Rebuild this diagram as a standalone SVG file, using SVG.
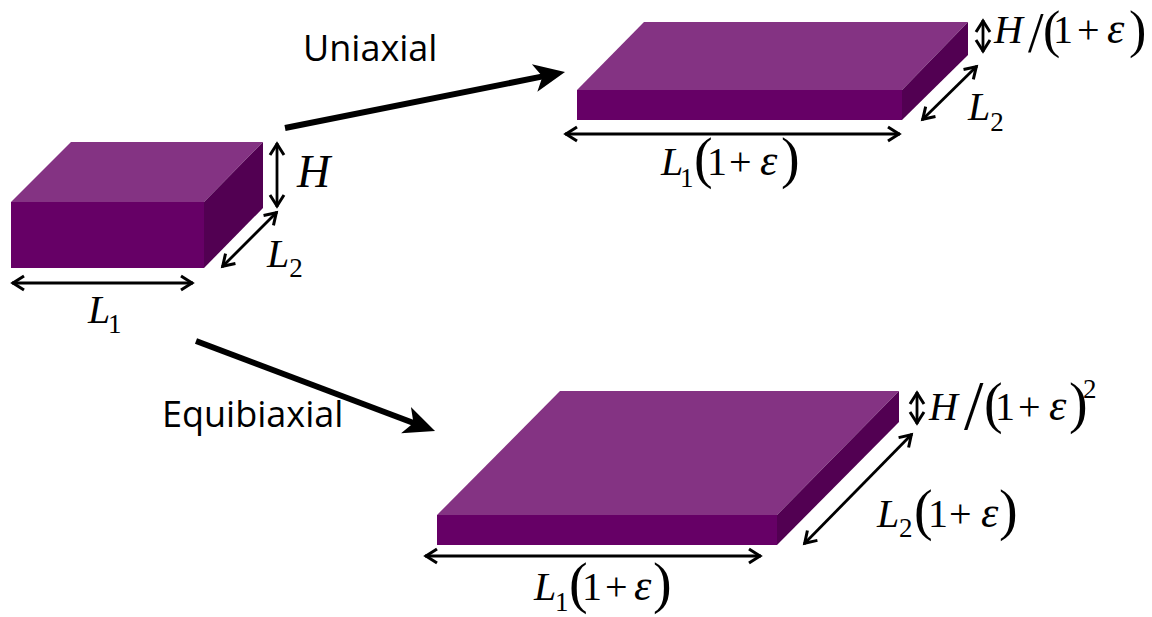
<svg xmlns="http://www.w3.org/2000/svg" width="1152" height="617" viewBox="0 0 1152 617">
<style>
.f{fill:#660066}.t{fill:#843383}.s{fill:#520052}
.d{stroke:#000;stroke-width:2.8;fill:none;marker-start:url(#o);marker-end:url(#o)}
.b{stroke:#000;stroke-width:6;fill:none;marker-end:url(#h)}
text{fill:#000;font-family:"Liberation Serif",serif;font-size:40px}
.i{font-style:italic}
.e{font-style:italic;font-size:44px}
.sb{font-size:27px}
.p{font-size:56px}
.sl{font-size:56px}
.l{font-family:"Open Sans","Noto Sans",sans-serif;font-size:36px}
</style>
<defs>
<marker id="o" viewBox="-16 -10 20 20" markerUnits="userSpaceOnUse" markerWidth="20" markerHeight="20" refX="0" refY="0" orient="auto-start-reverse"><path d="M-12 -7L-1 0L-12 7" fill="none" stroke="#000" stroke-width="3"/></marker>
<marker id="h" viewBox="-14 -16 38 32" markerUnits="userSpaceOnUse" markerWidth="38" markerHeight="32" refX="0" refY="0" orient="auto"><path d="M-11 -14L20 0L-11 14L-3 0Z" fill="#000"/></marker>
</defs>
<g id="box-original">
<path class="t" d="M11 202L71 142H263L204 202Z"/><path class="s" d="M204 202L263 142V208L204 268Z"/><rect class="f" x="11" y="202" width="193" height="66"/>
</g>
<g id="box-uniaxial">
<path class="t" d="M577 90L644 22H968L902 90Z"/><path class="s" d="M902 90L968 22V55L902 120Z"/><rect class="f" x="577" y="90" width="325" height="30"/>
</g>
<g id="box-equibiaxial">
<path class="t" d="M437 515L560 391H899L777 515Z"/><path class="s" d="M777 515L899 391V422L777 545Z"/><rect class="f" x="437" y="515" width="340" height="30"/>
</g>
<g id="connectors">
<line class="d" x1="12" y1="283" x2="193" y2="283"/>
<line class="d" x1="277" y1="143" x2="277" y2="207"/>
<line class="d" x1="222" y1="267" x2="277" y2="212"/>
<line class="d" x1="565" y1="134" x2="900" y2="134"/>
<line class="d" x1="983" y1="20" x2="983" y2="52"/>
<line class="d" x1="922" y1="120" x2="977" y2="66"/>
<line class="d" x1="425" y1="556" x2="761" y2="556"/>
<line class="d" x1="917" y1="392" x2="917" y2="424"/>
<line class="d" x1="804" y1="544" x2="912" y2="434"/>
<line class="b" x1="285" y1="128" x2="545.400" y2="75.900"/>
<line class="b" x1="196" y1="341" x2="416.300" y2="424"/>
</g>
<g id="label-uniaxial"><text class="l" x="303" y="61">Uniaxial</text></g>
<g id="label-equibiaxial"><text class="l" x="162" y="427">Equibiaxial</text></g>
<g id="labels-original">
<text x="88" y="323"><tspan class="i" style="letter-spacing:-2.200px">L</tspan><tspan class="sb" dy="10">1</tspan></text>
<text class="i" x="297" y="187" style="font-size:46px">H</text>
<text x="267" y="267"><tspan class="i">L</tspan><tspan class="sb" dy="10">2</tspan></text>
</g>
<g id="labels-uniaxial">
<text x="994" y="43"><tspan class="i">H</tspan><tspan class="sl" dx="5.100" dy="9">/</tspan><tspan style="font-size:52px;letter-spacing:-7.300px" dx="-0.600" dy="-5.500">(</tspan><tspan dy="-3.500">1</tspan><tspan dx="4">+</tspan><tspan class="e" dx="7.400">ε</tspan><tspan style="font-size:52px" dx="4.700" dy="3.500">)</tspan></text>
<text x="968" y="120"><tspan class="i">L</tspan><tspan class="sb" dy="11">2</tspan></text>
<text x="661" y="175"><tspan class="i" style="letter-spacing:-3.200px">L</tspan><tspan class="sb" dy="12">1</tspan><tspan class="p" style="letter-spacing:-5.600px" dx="0.500" dy="-10">(</tspan><tspan dy="-2">1</tspan><tspan dx="2">+</tspan><tspan class="e" dx="8.400">ε</tspan><tspan class="p" dx="3.700" dy="2">)</tspan></text>
</g>
<g id="labels-equibiaxial">
<text x="929" y="420"><tspan class="i">H</tspan><tspan class="sl" style="font-size:70px" dx="6.100" dy="9">/</tspan><tspan class="p" style="letter-spacing:-7.600px" dx="0.500" dy="-7">(</tspan><tspan dy="-2">1</tspan><tspan dx="3">+</tspan><tspan class="e" dx="8.400">ε</tspan><tspan class="p" style="letter-spacing:-4.600px" dx="2.700" dy="2">)</tspan><tspan class="sb" dy="-24">2</tspan></text>
<text x="877" y="527"><tspan class="i" style="letter-spacing:-0.200px">L</tspan><tspan class="sb" dy="10">2</tspan><tspan class="p" style="letter-spacing:-4.600px" dx="1.500" dy="-8">(</tspan><tspan dy="-2">1</tspan><tspan dx="1">+</tspan><tspan class="e" dx="9.400">ε</tspan><tspan class="p" dx="0.700" dy="2">)</tspan></text>
<text x="534" y="600"><tspan class="i" style="letter-spacing:-1.200px">L</tspan><tspan class="sb" dy="11">1</tspan><tspan class="p" style="letter-spacing:-5.600px" dx="0.500" dy="-9">(</tspan><tspan dy="-2">1</tspan><tspan dx="3">+</tspan><tspan class="e" dx="6.400">ε</tspan><tspan class="p" dx="1.700" dy="2">)</tspan></text>
</g>
</svg>
